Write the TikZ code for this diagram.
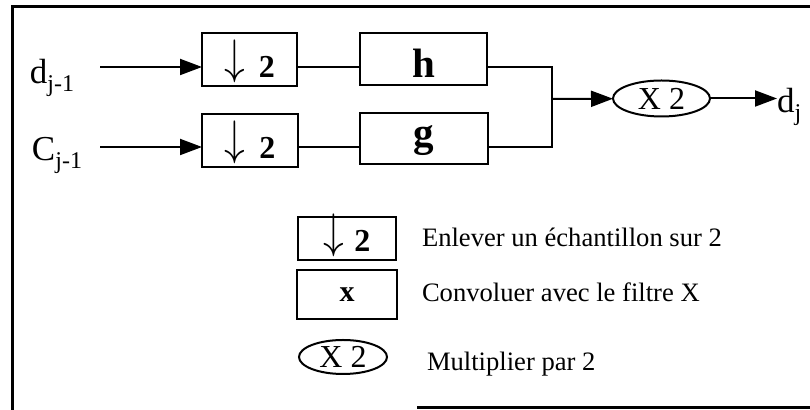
\documentclass[tikz,border=0pt]{standalone}
\usepackage{graphicx}
\usepackage{fontspec}
\setmainfont{Liberation Serif}
\usetikzlibrary{arrows.meta, shapes.geometric}

\newcommand{\dsarrow}{\raisebox{2pt}{\scalebox{1.2}[1.4]{$\Big\downarrow$}}}
\newcommand{\lowidx}[1]{\raisebox{-4pt}{\fontsize{12}{12}\selectfont #1}}

\begin{document}
\begin{tikzpicture}[
      x=0.5pt, y=-0.5pt,
      every node/.style={inner sep=0pt, outer sep=0pt},
      box/.style={draw, line width=1pt, rectangle},
      oval/.style={draw, line width=1pt, ellipse},
      link/.style={line width=1pt},
      flow/.style={line width=1pt, -{Triangle[length=11pt, width=8pt]}},
      signal/.style={font=\fontsize{17.5}{20}\selectfont, anchor=base west},
      legend/.style={font=\fontsize{13.3}{16}\selectfont, anchor=base west},
      downbox/.style={box, font=\fontsize{16}{18}\selectfont},
      filterbox/.style={box, font=\bfseries\fontsize{20.5}{22}\selectfont}
    ]
      \useasboundingbox (0,0) rectangle (810,410);
      % frame
      \draw[line width=1.5pt] (12,410) -- (12,7) -- (810,7);
      \draw[line width=1.5pt] (417,408) -- (810,408);

      % inputs
      \node[signal] (dprev) at (30,84) {d\lowidx{j-1}};
      \node[signal] (cprev) at (32,161) {C\lowidx{j-1}};
      \coordinate (din) at (100,67);
      \coordinate (cin) at (100,147);

      % downsampling and filters
      \node[downbox, minimum width=47.5pt, minimum height=26.5pt, text height=20pt, text depth=1.5pt] (downd) at (249.5,59.5) {\dsarrow\hspace{7pt}\textbf{2}};
      \node[downbox, minimum width=48pt, minimum height=26.5pt, text height=20pt, text depth=1.5pt] (downc) at (250,140.5) {\dsarrow\hspace{7pt}\textbf{2}};
      \node[filterbox, minimum width=63.5pt, minimum height=26pt, text height=19pt, text depth=0pt] (filth) at (423.5,59) {h};
      \node[filterbox, minimum width=64pt, minimum height=25.5pt, text height=8.5pt, text depth=0pt] (filtg) at (424,138.5) {g};
      \coordinate (join) at (552,99);
      \node[oval, minimum width=48.5pt, minimum height=18pt, font=\fontsize{16}{18}\selectfont] (twice) at (661.5,98.5) {X 2};
      \node[signal] (dnext) at (777,113) {d\lowidx{j}};

      \draw[flow] (din) -- (downd.west |- din);
      \draw[flow] (cin) -- (downc.west |- cin);
      \draw[link] (downd.east |- din) -- (filth.west |- din);
      \draw[link] (downc.east |- cin) -- (filtg.west |- cin);
      \draw[link] (filth.east |- din) -| (join) |- (filtg.east |- cin);
      \draw[flow] (join) -- (twice);
      \draw[flow] (twice) -- (twice.east -| dnext.west);

      % legend
      \node[downbox, minimum width=49pt, minimum height=21.5pt, text height=15pt, text depth=1.5pt] (keydown) at (347,238.5) {\dsarrow\hspace{5pt}\textbf{2}};
      \node[box, minimum width=50pt, minimum height=24.5pt, font=\bfseries\fontsize{15}{16}\selectfont] (keyfilt) at (347,294.5) {x};
      \node[oval, minimum width=44pt, minimum height=17pt, font=\fontsize{16}{18}\selectfont] (keytwice) at (343,357) {X 2};
      \node[legend] (keydowntxt) at (422,247) {Enlever un échantillon sur 2};
      \node[legend] (keyfilttxt) at (422,302) {Convoluer avec le filtre X};
      \node[legend] (keytwicetxt) at (427,371) {Multiplier par 2};
    \end{tikzpicture}
\end{document}
